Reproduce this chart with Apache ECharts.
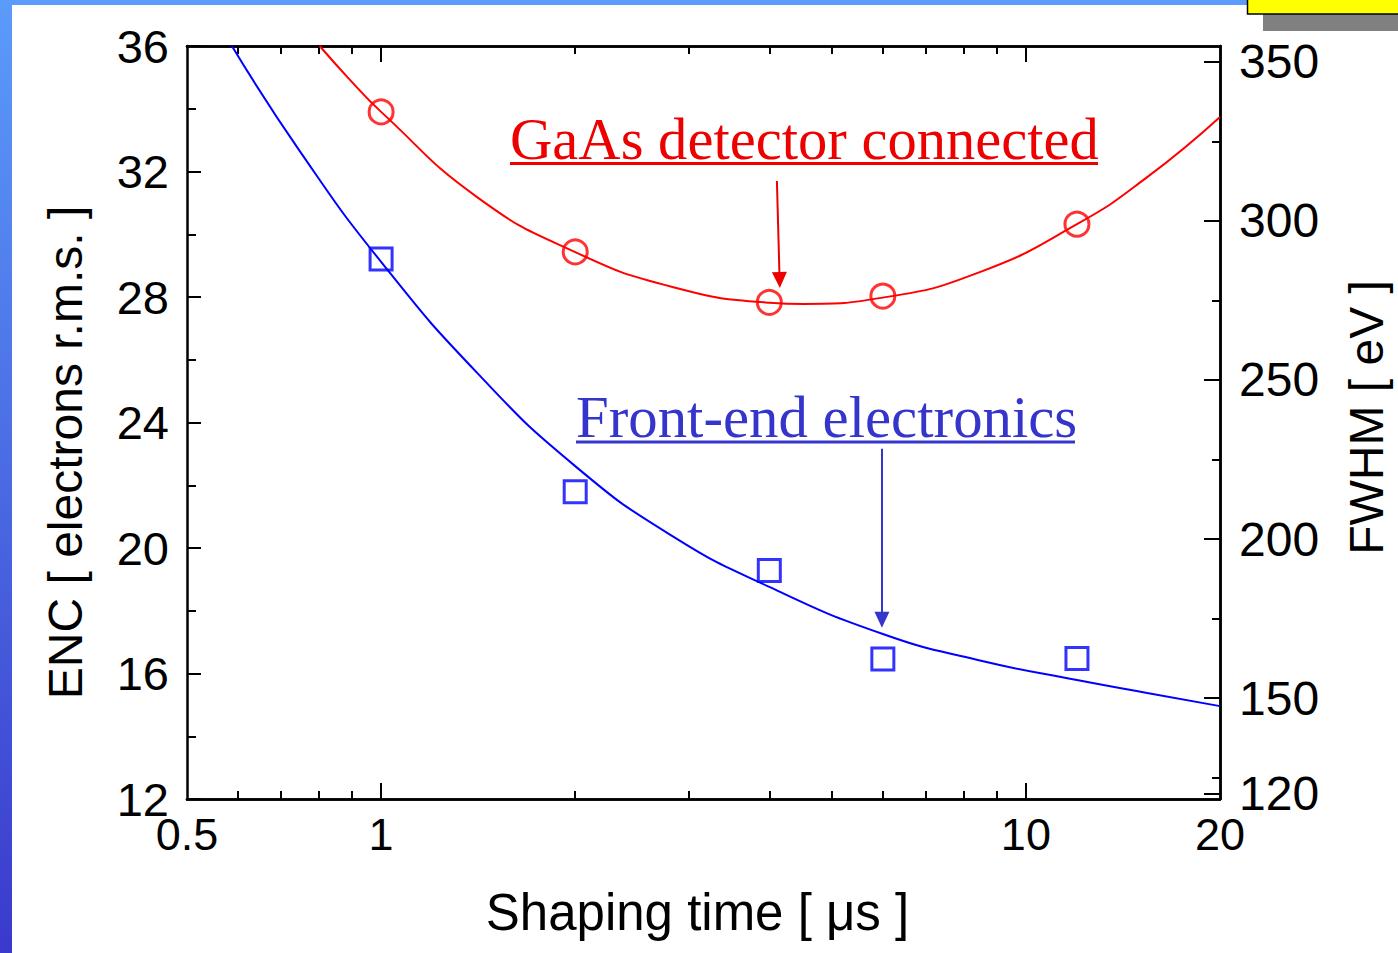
<!DOCTYPE html>
<html>
<head>
<meta charset="utf-8">
<script src="https://cdn.jsdelivr.net/npm/echarts@6/dist/echarts.min.js"></script>
<style>
  html, body { margin: 0; padding: 0; background: #ffffff; }
  #chart { width: 1398px; height: 953px; }
</style>
</head>
<body>
<div id="chart"></div>
<script>
// Measured noise (ENC, electrons r.m.s.) versus amplifier shaping time (µs)
const shapingTimes = [1, 2, 4, 6, 12];
const encGaAs      = [33.9, 29.44, 27.83, 28.03, 30.32];
const encFrontEnd  = [29.21, 21.79, 19.28, 16.46, 16.48];

// Fitted noise curves, sampled along the drawn fit
const fitGaAsT  = [0.803, 0.894, 1, 1.414, 2, 2.83, 4, 4.53, 6, 8.42, 12, 15.42, 20];
const fitGaAsE  = [36.0, 34.93, 33.9, 31.16, 29.43, 28.32, 27.82, 27.78, 27.98, 28.77, 30.32, 31.82, 33.74];
const fitFrontT = [0.587, 0.748, 1, 1.414, 2, 2.83, 4, 6, 8.42, 12, 15.42, 20];
const fitFrontE = [36.0, 32.65, 29.12, 25.55, 22.61, 20.38, 18.76, 17.26, 16.43, 15.79, 15.38, 14.96];

// Axis ticks
const timeLabels     = [0.5, 1, 10, 20];
const timeMajorTicks = [1, 10];
const timeMinorTicks = [0.6, 0.7, 0.8, 0.9, 2, 3, 4, 5, 6, 7, 8, 9];
const encRange       = [12, 36];
const fwhmLabels     = [120, 150, 200, 250, 300, 350];
const fwhmMinorTicks = [125, 175, 225, 275, 325];
const eVPerElectron  = 9.86;   // FWHM (eV) per electron r.m.s.

// Annotation arrows (data coordinates: start -> arrowhead centre)
const gaasArrow  = [[4.11, 31.7], [4.15, 28.54]];
const frontArrow = [[5.98, 23.16], [5.98, 17.71]];

const SANS  = '"Liberation Sans", Arial, sans-serif';
const SERIF = '"Liberation Serif", "Times New Roman", serif';
const BLACK = '#000000';

function toPairs(xs, ys) { return xs.map((x, i) => [x, ys[i]]); }

function xAxisDef(position, ticks, len, withLabels) {
  return {
    type: 'log', logBase: 10, min: 0.5, max: 20, position: position,
    axisLine: { show: true, lineStyle: { color: BLACK, width: 2.5 } },
    axisTick: { show: true, inside: true, length: len, customValues: ticks,
                lineStyle: { color: BLACK, width: 2 } },
    axisLabel: withLabels
      ? { show: true, customValues: timeLabels, margin: 13, color: BLACK,
          fontSize: 45, fontFamily: SANS }
      : { show: false },
    splitLine: { show: false }, minorTick: { show: false }
  };
}

function fwhmAxisDef(ticks, len, withLabels) {
  return {
    type: 'value', position: 'right',
    min: encRange[0] * eVPerElectron, max: encRange[1] * eVPerElectron,
    axisLine: { show: true, lineStyle: { color: BLACK, width: 2.5 } },
    axisTick: { show: true, inside: true, length: len, customValues: ticks,
                lineStyle: { color: BLACK, width: 2 } },
    axisLabel: withLabels
      ? { show: true, customValues: fwhmLabels, margin: 19, color: BLACK,
          fontSize: 48, fontFamily: SANS }
      : { show: false },
    splitLine: { show: false },
    name: withLabels ? 'FWHM [ eV ]' : '',
    nameLocation: 'middle', nameGap: 122,
    nameTextStyle: { color: BLACK, fontSize: 48, fontFamily: SANS, padding: [0, 0, 0, 10] }
  };
}

const chart = echarts.init(document.getElementById('chart'), null, { renderer: 'svg' });

chart.setOption({
  backgroundColor: '#ffffff',
  animation: false,
  grid: { left: 187, top: 46, width: 1036, height: 753, containLabel: false },
  xAxis: [
    Object.assign(xAxisDef('bottom', timeMajorTicks, 16, true), {
      name: 'Shaping time [ μs ]', nameLocation: 'middle', nameGap: 88,
      nameTextStyle: { color: BLACK, fontSize: 51, fontFamily: SANS, padding: [0, 12, 0, 0] }
    }),
    xAxisDef('bottom', timeMinorTicks, 8, false),
    xAxisDef('top', timeMajorTicks, 16, false),
    xAxisDef('top', timeMinorTicks, 8, false)
  ],
  yAxis: [
    {
      type: 'value', position: 'left', min: encRange[0], max: encRange[1], interval: 4,
      axisLine: { show: true, lineStyle: { color: BLACK, width: 2.5 } },
      axisTick: { show: true, inside: true, length: 14, lineStyle: { color: BLACK, width: 2 } },
      minorTick: { show: true, splitNumber: 2, length: 9, lineStyle: { color: BLACK, width: 2 } },
      axisLabel: { margin: 18, color: BLACK, fontSize: 47, fontFamily: SANS },
      splitLine: { show: false },
      name: 'ENC [ electrons r.m.s. ]', nameLocation: 'middle', nameGap: 98,
      nameTextStyle: { color: BLACK, fontSize: 48, fontFamily: SANS, padding: [0, 60, 0, 0] }
    },
    fwhmAxisDef(fwhmLabels, 16, true),
    fwhmAxisDef(fwhmMinorTicks, 8, false)
  ],
  series: [
    {
      name: 'GaAs fit', type: 'line', data: toPairs(fitGaAsT, fitGaAsE),
      smooth: 0.5, showSymbol: false, clip: true, silent: true,
      lineStyle: { color: '#ff0000', width: 2 },
      markLine: {
        silent: true, symbol: ['none', 'triangle'], symbolSize: [15, 16],
        label: { show: false },
        lineStyle: { color: '#ee0000', width: 2, type: 'solid' },
        data: [[{ coord: gaasArrow[0] }, { coord: gaasArrow[1] }]]
      }
    },
    {
      name: 'Front-end fit', type: 'line', data: toPairs(fitFrontT, fitFrontE),
      smooth: 0.5, showSymbol: false, clip: true, silent: true,
      lineStyle: { color: '#0000ff', width: 2 },
      markLine: {
        silent: true, symbol: ['none', 'triangle'], symbolSize: [15, 16],
        label: { show: false },
        lineStyle: { color: '#3535cc', width: 2, type: 'solid' },
        data: [[{ coord: frontArrow[0] }, { coord: frontArrow[1] }]]
      }
    },
    {
      name: 'GaAs detector connected', type: 'scatter', data: toPairs(shapingTimes, encGaAs),
      symbol: 'circle', symbolSize: 24,
      itemStyle: { color: 'rgba(0,0,0,0)', borderColor: '#ff0000', borderWidth: 3 }
    },
    {
      name: 'Front-end electronics', type: 'scatter', data: toPairs(shapingTimes, encFrontEnd),
      symbol: 'rect', symbolSize: 22,
      itemStyle: { color: 'rgba(0,0,0,0)', borderColor: '#0000ff', borderWidth: 3 }
    }
  ],
  graphic: [
    // slide frame: gradient bar on the left, strip on top, yellow tab with shadow
    { type: 'rect', z: -10, shape: { x: 0, y: 0, width: 12, height: 953 },
      style: { fill: new echarts.graphic.LinearGradient(0, 0, 0, 1, [
        { offset: 0, color: '#5b9bfa' }, { offset: 1, color: '#3a3acc' }]) } },
    { type: 'rect', z: -10, shape: { x: 0, y: 0, width: 1248, height: 5 },
      style: { fill: '#5b9bfa' } },
    { type: 'rect', z: -10, shape: { x: 1263, y: 14, width: 135, height: 17 },
      style: { fill: '#808080' } },
    { type: 'rect', z: -9, shape: { x: 1247.5, y: -3, width: 160, height: 17 },
      style: { fill: '#ffff00', stroke: '#000000', lineWidth: 1.5 } },
    // curve annotations
    { type: 'text', x: 510, y: 139.5,
      style: { text: 'GaAs detector connected', fontSize: 58.6, fontFamily: SERIF,
               fill: '#ee0000', align: 'left', verticalAlign: 'middle' } },
    { type: 'line', shape: { x1: 510, y1: 163.5, x2: 1098, y2: 163.5 },
      style: { stroke: '#ee0000', lineWidth: 3 } },
    { type: 'text', x: 576, y: 417.5,
      style: { text: 'Front-end electronics', fontSize: 58.8, fontFamily: SERIF,
               fill: '#3535cc', align: 'left', verticalAlign: 'middle' } },
    { type: 'line', shape: { x1: 576, y1: 442, x2: 1075, y2: 442 },
      style: { stroke: '#3535cc', lineWidth: 3 } }
  ]
});
</script>
</body>
</html>
